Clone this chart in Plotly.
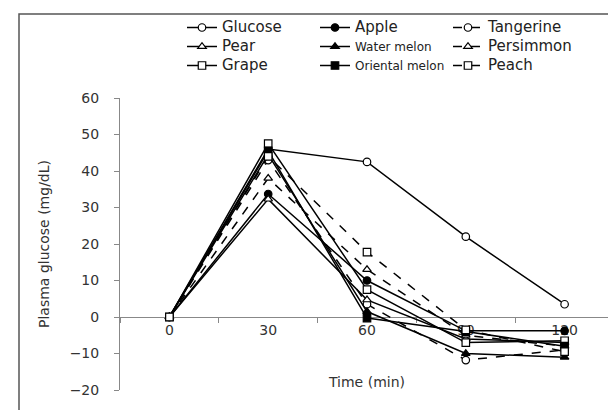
import plotly.graph_objects as go

time_min = [0, 30, 60, 90, 120]
tick_labels = ["0", "30", "60", "90", "120"]

glucose = [0, 46.0, 42.5, 22.0, 3.5]
apple = [0, 33.7, 10.0, -3.8, -3.8]
tangerine = [0, 43.0, 3.5, -11.8, -9.0]
pear = [0, 32.3, 4.7, -6.0, -7.0]
water_melon = [0, 44.5, 1.5, -10.0, -11.0]
persimmon = [0, 38.0, 13.0, -5.0, -8.0]
grape = [0, 47.5, 7.5, -7.0, -6.5]
oriental_melon = [0, 45.5, -0.3, -4.0, -8.0]
peach = [0, 44.0, 17.8, -3.5, -9.5]

names = ["Glucose", "Apple", "Tangerine", "Pear", "Water melon", "Persimmon",
         "Grape", "Oriental melon", "Peach"]
values = [glucose, apple, tangerine, pear, water_melon, persimmon, grape, oriental_melon, peach]
symbols = ["circle", "circle", "circle", "triangle-up", "triangle-up", "triangle-up",
           "square", "square", "square"]
fills = ["white", "black", "white", "white", "black", "white", "white", "black", "white"]
dashes = ["solid", "solid", "dash", "solid", "solid", "dash", "solid", "solid", "dash"]
name_sizes = [15, 15, 15, 15, 12, 15, 15, 12, 15]

W, H = 616, 410
ML, MR, MT, MB = 112, 10, 90, 28
PW, PH = W - ML - MR, H - MT - MB
YMIN, YMAX = -20, 60

fig = go.Figure()
for name, vals, sym, fill, dash, ns in zip(names, values, symbols, fills, dashes, name_sizes):
    fig.add_trace(go.Scatter(
        x=time_min, y=vals, mode="lines+markers",
        name=f'<span style="font-size:{ns}px">{name}</span>',
        line=dict(color="black", width=1.5, dash=dash),
        marker=dict(symbol=sym, size=7.5, color=fill, line=dict(color="black", width=1.2)),
    ))

def px_x(p):
    return (p - ML) / PW

def px_y(p):
    return (H - MB - p) / PH

font_family = "DejaVu Sans"
fig.add_shape(type="rect", xref="paper", yref="paper",
              x0=px_x(11), x1=px_x(615), y0=px_y(430), y1=px_y(6),
              line=dict(color="#555555", width=1.5), fillcolor="rgba(0,0,0,0)")

fig.update_layout(
    width=W, height=H,
    margin=dict(l=ML, r=MR, t=MT, b=MB, autoexpand=False),
    paper_bgcolor="white", plot_bgcolor="white",
    font=dict(family=font_family, color="#333333", size=14),
    showlegend=True,
    legend=dict(orientation="h", x=px_x(174), y=px_y(5), xanchor="left", yanchor="top",
                entrywidth=88, entrywidthmode="pixels", font=dict(size=12, color="#222222"),
                bgcolor="rgba(0,0,0,0)", tracegroupgap=0, itemwidth=30),
    xaxis=dict(
        range=[-15, 135], tickmode="array", tickvals=time_min, ticktext=tick_labels,
        ticks="", showgrid=False, zeroline=False, showline=True, linecolor="#888888", linewidth=1,
        anchor="free", position=(0 - YMIN) / (YMAX - YMIN), layer="below traces",
        minor=dict(tickvals=[-15, 15, 45, 75, 105, 135], ticks="outside", ticklen=5,
                   tickcolor="#888888", showgrid=False),
        title=dict(text="Time (min)", standoff=40, font=dict(size=14)),
        tickfont=dict(size=14), ticklabelstandoff=0, automargin=False,
    ),
    yaxis=dict(
        range=[YMIN, YMAX], tickmode="linear", tick0=-20, dtick=10,
        ticks="outside", ticklen=5, tickcolor="#888888", showgrid=False, zeroline=False,
        showline=True, linecolor="#888888", linewidth=1,
        tickformat="d", tickfont=dict(size=14), ticklabelstandoff=12,
        title=dict(text="Plasma glucose (mg/dL)", font=dict(size=14), standoff=16),
        automargin=False,
    ),
)
fig.write_html("out.html")
